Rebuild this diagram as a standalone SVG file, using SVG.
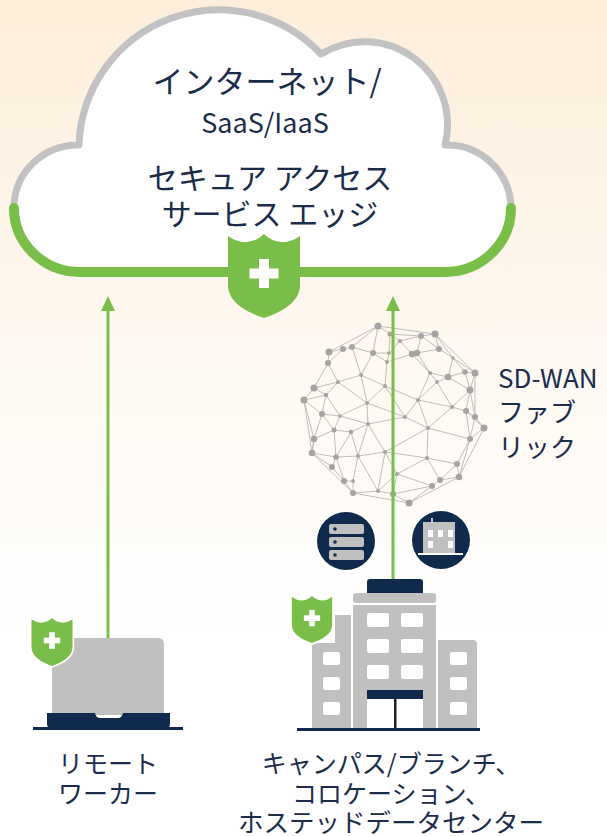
<svg xmlns="http://www.w3.org/2000/svg" width="607" height="836" viewBox="0 0 607 836">
  <defs>
    <linearGradient id="bg" x1="0" y1="0" x2="0" y2="1">
      <stop offset="0" stop-color="#fdeedb"/>
      <stop offset="0.4" stop-color="#fef8f0"/>
      <stop offset="0.75" stop-color="#ffffff"/>
    </linearGradient>
    <!-- shield badge, origin at the top centre, 72 x 84 -->
    <g id="shield">
      <path d="M-36 2 Q-26 9 -17 8 Q-7 7 0 0 Q7 7 17 8 Q26 9 36 2 L36 51 C36 68 18 78 0 84 C-18 78 -36 68 -36 51 Z"/>
      <rect x="-5" y="25" width="10" height="29" fill="#ffffff" stroke="none"/>
      <rect x="-14.5" y="34.5" width="29" height="10" fill="#ffffff" stroke="none"/>
    </g>
    <marker id="ah" viewBox="0 0 15 14" refX="7" refY="7" markerWidth="15" markerHeight="14" markerUnits="userSpaceOnUse" orient="auto">
      <path d="M0 0 L15 7 L0 14 Z" fill="#78be48"/>
    </marker>
  </defs>
  <style>
    .txt { font-family: "Noto Sans CJK JP", "Noto Sans", "Liberation Sans", sans-serif; fill: #1b2c4b; }
    .mid { text-anchor: middle; }
    .gray { fill: #c0c0c0; }
    .navy { fill: #0f2a4d; }
    .win { fill: #ffffff; }
    .mesh { stroke: #b8b8b8; stroke-width: 0.9; fill: none; }
    .dot { fill: #a4a4a4; }
    .link { stroke: #78be48; stroke-width: 3; fill: none; marker-end: url(#ah); }
  </style>

  <rect width="607" height="836" fill="url(#bg)"/>

  <!-- cloud -->
  <g id="cloud">
    <path d="M14 208 A64 63 0 0 1 79 145 A140 140 0 0 1 321 54 A83 83 0 0 1 445 145 A64 64 0 0 1 511 208 A66 64 0 0 1 445 272 L80 272 A66 64 0 0 1 14 208 Z" fill="#ffffff"/>
    <path d="M14 208 A64 63 0 0 1 79 145 A140 140 0 0 1 321 54 A83 83 0 0 1 445 145 A64 64 0 0 1 511 208" fill="none" stroke="#c2c2c2" stroke-width="7" stroke-linejoin="round"/>
    <path d="M511 208 A66 64 0 0 1 445 272 L80 272 A66 64 0 0 1 14 208" fill="none" stroke="#78be48" stroke-width="10" stroke-linecap="round"/>
    <use href="#shield" transform="translate(264,234)" fill="#78be48"/>
    <text class="txt mid" x="267" y="93" font-size="31">インターネット/</text>
    <text class="txt mid" x="265" y="133" font-size="27">SaaS/IaaS</text>
    <text class="txt mid" x="270" y="189" font-size="30">セキュア アクセス</text>
    <text class="txt mid" x="270" y="225" font-size="30">サービス エッジ</text>
  </g>

  <!-- SD-WAN mesh sphere -->
  <g id="sdwan">
    <path class="mesh" d="M378 326L435 334M435 334L453 358M453 358L475 373M475 373L470 390M470 390L475 417M475 417L484 428M484 428L470 439M470 439L459 477M459 477L440 480M440 480L432 486M432 486L409 503M409 503L393 494M393 494L378 491M378 491L353 493M353 493L344 481M344 481L332 467M332 467L312 453M312 453L314 439M314 439L304 400M304 400L314 388M314 388L328 363M328 363L329 352M329 352L343 349M343 349L352 347M352 347L378 326
    M378 326L390 334M390 334L400 341M390 334L421 336M421 336L435 334M421 336L400 341M435 334L439 349M439 349L421 336M439 349L453 358M400 341L389 353M400 341L412 354M417 353L421 336M417 353L439 349M389 353L373 353M373 353L352 347M373 353L387 362M389 353L387 362M387 362L412 354M373 353L361 375M352 347L361 375M343 349L328 363M328 363L338 382M338 382L361 375M338 382L314 388M338 382L326 395M314 388L326 395M326 395L304 400M304 400L322 414M326 395L322 414M338 382L367 403M361 375L367 403M361 375L385 386M387 362L385 386M385 386L367 403M385 386L418 400
    M412 354L430 373M417 353L430 373M430 373L437 382M430 373L448 377M448 377L465 372M465 372L475 373M465 372L453 358M453 358L448 377M448 377L437 382M437 382L418 400M430 373L418 400M437 382L452 407M448 377L470 390M470 390L452 407M465 372L470 390M452 407L466 411M466 411L475 417M470 390L466 411M452 407L418 400M418 400L405 417M385 386L405 417M367 403L405 417M367 403L368 424M405 417L368 424M405 417L428 428M418 400L428 428M452 407L428 428M428 428L470 439M466 411L470 439M475 417L470 439
    M322 414L340 416M326 395L340 416M367 403L340 416M340 416L368 424M340 416L334 430M322 414L334 430M322 414L314 439M334 430L351 432M351 432L368 424M334 430L314 439M314 439L312 453M334 430L336 457M312 453L336 457M336 457L332 467M351 432L358 456M368 424L358 456M368 424L385 452M358 456L385 452M428 428L385 452M428 428L427 458M385 452L427 458M470 439L457 464M427 458L457 464M457 464L459 477M427 458L440 480M457 464L440 480M427 458L397 474M385 452L397 474M397 474L432 486M397 474L393 494M397 474L378 491M385 452L378 491M358 456L378 491M358 456L353 481M358 456L336 457M336 457L344 481M344 481L353 481M353 481L353 493M432 486L393 494M336 457L351 432M466 411L484 428M378 326L373 353M390 334L389 353M378 326L329 352M435 334L475 373M475 373L475 417M484 428L459 477M304 400L312 453M312 453L353 493M353 493L409 503M409 503L459 477"/>
    <g class="dot">
      <circle cx="378" cy="326" r="3.5"/><circle cx="390" cy="334" r="2.5"/><circle cx="421" cy="336" r="3"/><circle cx="435" cy="334" r="3.5"/>
      <circle cx="400" cy="341" r="2"/><circle cx="352" cy="347" r="3"/><circle cx="343" cy="349" r="3"/><circle cx="329" cy="352" r="3.5"/>
      <circle cx="373" cy="353" r="3"/><circle cx="389" cy="353" r="1.8"/><circle cx="412" cy="354" r="3.2"/><circle cx="417" cy="353" r="3.2"/>
      <circle cx="439" cy="349" r="3"/><circle cx="453" cy="358" r="1.8"/><circle cx="387" cy="362" r="2"/><circle cx="328" cy="363" r="3"/>
      <circle cx="430" cy="373" r="2"/><circle cx="465" cy="372" r="2.8"/><circle cx="475" cy="373" r="3.5"/><circle cx="361" cy="375" r="2"/>
      <circle cx="448" cy="377" r="3.3"/><circle cx="437" cy="382" r="2"/><circle cx="338" cy="382" r="2"/><circle cx="385" cy="386" r="2"/>
      <circle cx="314" cy="388" r="3.5"/><circle cx="470" cy="390" r="3.5"/><circle cx="326" cy="395" r="2.2"/><circle cx="304" cy="400" r="3.5"/>
      <circle cx="418" cy="400" r="2"/><circle cx="367" cy="403" r="2"/><circle cx="452" cy="407" r="2"/><circle cx="466" cy="411" r="3"/>
      <circle cx="322" cy="414" r="3"/><circle cx="340" cy="416" r="1.8"/><circle cx="475" cy="417" r="3"/><circle cx="405" cy="417" r="2"/>
      <circle cx="368" cy="424" r="2"/><circle cx="428" cy="428" r="2"/><circle cx="484" cy="428" r="3.5"/><circle cx="334" cy="430" r="2.5"/>
      <circle cx="351" cy="432" r="2.3"/><circle cx="314" cy="439" r="3.2"/><circle cx="470" cy="439" r="3"/><circle cx="358" cy="456" r="2"/>
      <circle cx="385" cy="452" r="2"/><circle cx="427" cy="458" r="2"/><circle cx="312" cy="453" r="3.3"/><circle cx="336" cy="457" r="2.8"/>
      <circle cx="457" cy="464" r="3"/><circle cx="332" cy="467" r="3"/><circle cx="397" cy="474" r="2"/><circle cx="459" cy="477" r="3.3"/>
      <circle cx="440" cy="480" r="3"/><circle cx="344" cy="481" r="3"/><circle cx="353" cy="481" r="2"/><circle cx="432" cy="486" r="3"/>
      <circle cx="378" cy="491" r="2"/><circle cx="353" cy="493" r="3"/><circle cx="393" cy="494" r="3"/><circle cx="409" cy="503" r="3.5"/>
    </g>
    <text class="txt" x="498" y="388" font-size="26">SD-WAN</text>
    <text class="txt" x="498" y="422" font-size="26">ファブ</text>
    <text class="txt" x="498" y="457" font-size="26">リック</text>
  </g>

  <!-- remote worker laptop -->
  <g id="remote-worker">
    <path class="gray" d="M52 715 L52 644 Q52 638 58 638 L158 638 Q164 638 164 644 L164 715 Z"/>
    <path class="navy" d="M47 713 L95 713 Q96 718 100 718 L118 718 Q122 718 123 713 L170 713 L170 724 Q170 728 166 728 L51 728 Q47 728 47 724 Z"/>
    <rect class="navy" x="33" y="727" width="150" height="3"/>
    <use href="#shield" transform="translate(52,618) scale(0.57)" fill="#78be48" stroke="#ffffff" stroke-width="6" paint-order="stroke"/>
    <text class="txt mid" x="108" y="773" font-size="25">リモート</text>
    <text class="txt mid" x="108" y="803" font-size="25">ワーカー</text>
  </g>

  <!-- server badge -->
  <g id="server-icon">
    <circle class="navy" cx="346" cy="541" r="29"/>
    <rect class="gray" x="329" y="524" width="35" height="10" rx="2"/>
    <rect class="gray" x="329" y="537" width="35" height="10" rx="2"/>
    <rect class="gray" x="329" y="550" width="35" height="10" rx="2"/>
    <circle class="navy" cx="335" cy="529" r="1.8"/>
    <circle class="navy" cx="335" cy="542" r="1.8"/>
    <circle class="navy" cx="335" cy="555" r="1.8"/>
  </g>

  <!-- office badge -->
  <g id="office-icon">
    <circle class="navy" cx="441" cy="540" r="29"/>
    <rect class="gray" x="431" y="518" width="2" height="5"/>
    <rect class="gray" x="423" y="522" width="32" height="32"/>
    <rect class="win" x="428" y="530" width="5" height="7"/>
    <rect class="win" x="438" y="530" width="5" height="7"/>
    <rect class="win" x="448" y="530" width="5" height="7"/>
    <rect class="win" x="428" y="541" width="5" height="7"/>
    <rect class="win" x="448" y="541" width="5" height="7"/>
    <rect class="win" x="418" y="553" width="45" height="2"/>
  </g>

  <!-- campus / branch building -->
  <g id="campus">
    <path class="navy" d="M367 594 L367 582 Q367 579 370 579 L420 579 Q423 579 423 582 L423 594 Z"/>
    <rect class="gray" x="353" y="593" width="83" height="10" rx="3"/>
    <rect class="gray" x="353" y="605" width="83" height="125"/>
    <rect class="win" x="367" y="613" width="22" height="14" rx="2"/>
    <rect class="win" x="401" y="613" width="22" height="14" rx="2"/>
    <rect class="win" x="367" y="639" width="22" height="14" rx="2"/>
    <rect class="win" x="401" y="639" width="22" height="14" rx="2"/>
    <rect class="win" x="367" y="665" width="22" height="14" rx="2"/>
    <rect class="win" x="401" y="665" width="22" height="14" rx="2"/>
    <rect class="navy" x="367" y="690" width="56" height="9"/>
    <rect class="win" x="367" y="699" width="56" height="31"/>
    <rect x="394" y="699" width="2.5" height="31" fill="#222222"/>
    <path class="gray" d="M312 730 L312 646 Q312 643 315 643 L335 643 L335 615 L351 615 L351 730 Z"/>
    <rect class="win" x="323" y="652" width="17" height="13" rx="2"/>
    <rect class="win" x="323" y="677" width="17" height="13" rx="2"/>
    <rect class="win" x="323" y="702" width="17" height="13" rx="2"/>
    <path class="gray" d="M438 730 L438 640 L473 640 Q477 640 477 644 L477 730 Z"/>
    <rect class="win" x="450" y="652" width="17" height="13" rx="2"/>
    <rect class="win" x="450" y="677" width="17" height="13" rx="2"/>
    <rect class="win" x="450" y="702" width="17" height="13" rx="2"/>
    <rect class="navy" x="297" y="728" width="183" height="3"/>
    <use href="#shield" transform="translate(312,596) scale(0.56)" fill="#78be48" stroke="#ffffff" stroke-width="6" paint-order="stroke"/>
    <text class="txt mid" x="391" y="773" font-size="25">キャンパス/ブランチ、</text>
    <text class="txt mid" x="391" y="803" font-size="25">コロケーション、</text>
    <text class="txt mid" x="391" y="832" font-size="25.5">ホステッドデータセンター</text>
  </g>

  <!-- uplinks -->
  <g id="connectors">
    <line class="link" x1="108" y1="638" x2="108" y2="304"/>
    <line class="link" x1="393" y1="579" x2="393" y2="304"/>
  </g>
</svg>
